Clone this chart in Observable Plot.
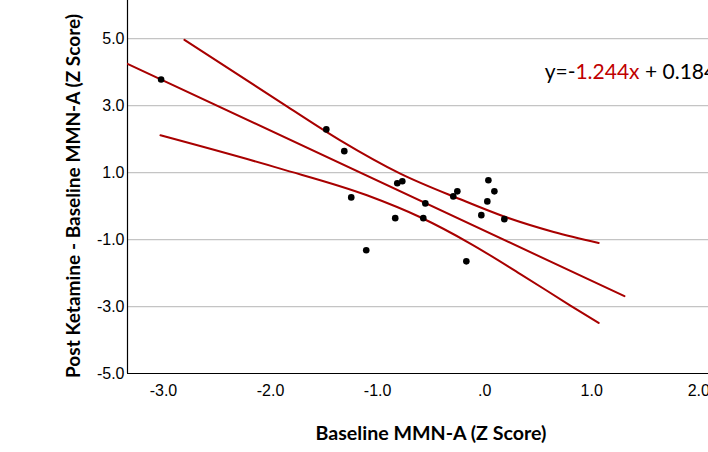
<!DOCTYPE html>
<html>
<head>
<meta charset="utf-8">
<script src="https://cdn.jsdelivr.net/npm/d3@7"></script>
<script src="https://cdn.jsdelivr.net/npm/@observablehq/plot@0.6"></script>
<style>
  html, body { margin: 0; padding: 0; background: #ffffff; }
  #chart svg { display: block; }
</style>
</head>
<body>
<div id="chart"></div>
<script>
// ---- data ----
const baselineX = [-3.022, -1.479, -1.311, -1.246, -1.106, -0.816, -0.769, -0.835, -0.554, -0.573, -0.293, -0.255, -0.171, 0.035, 0.091, 0.025, -0.031, 0.184];
const changeY   = [ 3.78,   2.29,   1.64,   0.26,  -1.32,   0.68,   0.74,  -0.36,   0.08,  -0.36,   0.29,   0.44,  -1.65,  0.77,  0.44,  0.14,  -0.27, -0.39];

const fitX = [-3.336, 1.306];
const fitY = [4.25, -2.69];

const upperX = [-2.804, -1.847, -1.349, -0.788, -0.227, 0.175, 0.645, 1.065];
const upperY = [ 4.964,  2.979,  1.964,  0.970,  0.203, -0.304, -0.773, -1.101];

const lowerX = [-3.028, -1.909, -1.099, -0.601, -0.134, 0.334, 0.801, 1.065];
const lowerY = [ 2.113,  1.119,  0.322, -0.334, -1.119, -2.030, -2.970, -3.490];

const xTicks = [-3, -2, -1, 0, 1, 2];
const xTickLabels = ["-3.0", "-2.0", "-1.0", ".0", "1.0", "2.0"];
const yTicks = [5, 3, 1, -1, -3, -5];
const yTickLabels = ["5.0", "3.0", "1.0", "-1.0", "-3.0", "-5.0"];
const gridValues = [5, 3, 1, -1, -3];

const xDomain = [-3.336, 2.091];
const yDomain = [-5, 6.14];

const xTitle = "Baseline MMN-A (Z Score)";
const yTitle = "Post Ketamine - Baseline MMN-A (Z Score)";
const eqParts = [["y=-", "#000000"], ["1.244x", "#c00000"], [" + 0.184", "#000000"]];
const eqAnchor = {x: 0.565, y: 3.78};

const lineColor = "#a80000";

const points = baselineX.map((x, i) => ({x, y: changeY[i]}));
const fit = fitX.map((x, i) => ({x, y: fitY[i]}));
const upper = upperX.map((x, i) => ({x, y: upperY[i]}));
const lower = lowerX.map((x, i) => ({x, y: lowerY[i]}));

const plot = Plot.plot({
  width: 708,
  height: 452,
  marginLeft: 127,
  marginRight: 0,
  marginTop: 0,
  marginBottom: 79,
  style: {fontFamily: "'Liberation Sans', Arial, sans-serif", fontSize: "16px", background: "#ffffff", color: "#000"},
  x: {domain: xDomain},
  y: {domain: yDomain},
  marks: [
    Plot.gridY(gridValues, {stroke: "#c4c4c4", strokeOpacity: 1, strokeWidth: 1.2}),
    Plot.axisX(xTicks, {tickSize: 0, tickPadding: 11, fontSize: 16, tickFormat: (d) => xTickLabels[xTicks.indexOf(d)], label: null}),
    Plot.axisY(yTicks, {tickSize: 0, tickPadding: 3, fontSize: 16, tickFormat: (d) => yTickLabels[yTicks.indexOf(d)], label: null}),
    Plot.ruleY([yDomain[0]], {stroke: "#000", strokeWidth: 1.2}),
    Plot.ruleX([xDomain[0]], {stroke: "#000", strokeWidth: 1.2}),
    Plot.line(fit, {x: "x", y: "y", stroke: lineColor, strokeWidth: 2, clip: true}),
    Plot.line(upper, {x: "x", y: "y", stroke: lineColor, strokeWidth: 2, curve: "monotone-x", clip: true}),
    Plot.line(lower, {x: "x", y: "y", stroke: lineColor, strokeWidth: 2, curve: "monotone-x", clip: true}),
    Plot.dot(points, {x: "x", y: "y", r: 3.3, fill: "#000", stroke: "none"})
  ]
});

document.getElementById("chart").appendChild(plot);

const svg = d3.select(plot);
const sx = plot.scale("x"), sy = plot.scale("y");

// equation
const eq = svg.append("text")
  .attr("x", sx.apply(eqAnchor.x))
  .attr("y", sy.apply(eqAnchor.y))
  .attr("text-anchor", "start")
  .attr("font-family", "Lato, 'Open Sans', sans-serif")
  .attr("font-size", 21);
eqParts.forEach(([t, c]) => eq.append("tspan").attr("fill", c).style("white-space", "pre").text(t));

// x axis title
svg.append("text")
  .attr("x", 431)
  .attr("y", 440)
  .attr("text-anchor", "middle")
  .attr("font-family", "Lato, 'Open Sans', sans-serif")
  .attr("font-weight", "bold")
  .attr("font-size", 18)
  .attr("textLength", 231)
  .attr("lengthAdjust", "spacingAndGlyphs")
  .attr("fill", "#000")
  .text(xTitle);

// y axis title
svg.append("text")
  .attr("transform", "translate(80,196) rotate(-90)")
  .attr("text-anchor", "middle")
  .attr("font-family", "Lato, 'Open Sans', sans-serif")
  .attr("font-weight", "bold")
  .attr("font-size", 18)
  .attr("textLength", 364)
  .attr("lengthAdjust", "spacingAndGlyphs")
  .attr("fill", "#000")
  .text(yTitle);
</script>
</body>
</html>
